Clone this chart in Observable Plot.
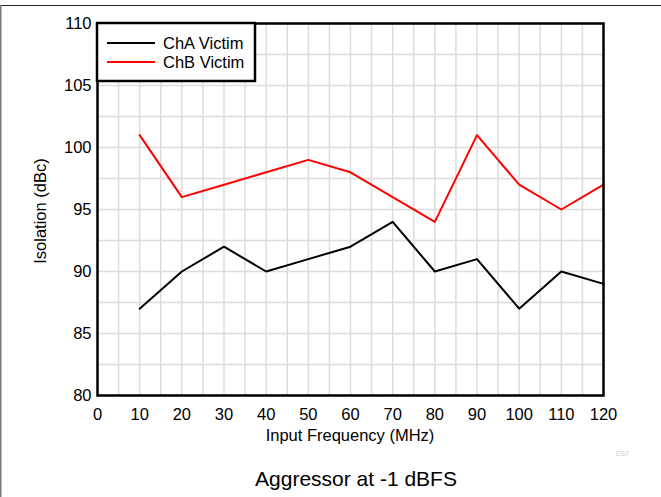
<!DOCTYPE html>
<html>
<head>
<meta charset="utf-8">
<script src="https://cdn.jsdelivr.net/npm/d3@7"></script>
<script src="https://cdn.jsdelivr.net/npm/@observablehq/plot@0.6"></script>
<style>
  html, body { margin: 0; padding: 0; background: #fff; }
  #chart { width: 661px; height: 497px; overflow: hidden; }
</style>
</head>
<body>
<div id="chart"></div>
<script>
const frequency = [10, 20, 30, 40, 50, 60, 70, 80, 90, 100, 110, 120];
const chA = [87, 90, 92, 90, 91, 92, 94, 90, 91, 87, 90, 89];
const chB = [101, 96, 97, 98, 99, 98, 96, 94, 101, 97, 95, 97];
const seriesNames = ["ChA Victim", "ChB Victim"];
const seriesColors = ["#000000", "#ff0000"];
const xTickLabels = [0, 10, 20, 30, 40, 50, 60, 70, 80, 90, 100, 110, 120];
const yTickLabels = [80, 85, 90, 95, 100, 105, 110];
const xGrid = d3.range(0, 121, 5);
const yGrid = d3.range(80, 110.01, 2.5);
const xTitle = "Input Frequency (MHz)";
const yTitle = "Isolation (dBc)";
const caption = "Aggressor at -1 dBFS";
const figId = "D37";

const rowsA = frequency.map((f, i) => ({f, v: chA[i]}));
const rowsB = frequency.map((f, i) => ({f, v: chB[i]}));

const W = 661, H = 497;
const mL = 97, mR = 58, mT = 23, mB = 102;
const font = "'Liberation Sans', Arial, Helvetica, sans-serif";

const plot = Plot.plot({
  width: W, height: H,
  marginLeft: mL, marginRight: mR, marginTop: mT, marginBottom: mB,
  style: {fontFamily: font, fontSize: "16.5px", color: "#000", background: "#fff", overflow: "visible"},
  x: {domain: [0, 120], label: null},
  y: {domain: [80, 110], label: null},
  marks: [
    Plot.gridX(xGrid, {stroke: "#dcdcdc", strokeOpacity: 1, strokeWidth: 1.5}),
    Plot.gridY(yGrid, {stroke: "#dcdcdc", strokeOpacity: 1, strokeWidth: 1.5}),
    Plot.axisX(xTickLabels, {tickSize: 0, tickPadding: 13, fontSize: 16.5, label: null}),
    Plot.axisY(yTickLabels, {tickSize: 0, tickPadding: 6, fontSize: 16.5, label: null}),
    Plot.line(rowsA, {x: "f", y: "v", stroke: seriesColors[0], strokeWidth: 2}),
    Plot.line(rowsB, {x: "f", y: "v", stroke: seriesColors[1], strokeWidth: 2}),
    Plot.frame({stroke: "#000", strokeWidth: 2.5})
  ]
});
document.getElementById("chart").appendChild(plot);

const svg = d3.select(plot);
const cx = mL + (W - mL - mR) / 2;
const cy = mT + (H - mT - mB) / 2;

// legend
const lg = svg.append("g");
lg.append("rect").attr("x", mL).attr("y", mT).attr("width", 158).attr("height", 58)
  .attr("fill", "#fff").attr("stroke", "#000").attr("stroke-width", 2.5);
seriesNames.forEach((name, i) => {
  const y = mT + 20 + i * 19;
  lg.append("line").attr("x1", mL + 10).attr("x2", mL + 58).attr("y1", y).attr("y2", y)
    .attr("stroke", seriesColors[i]).attr("stroke-width", 2);
  lg.append("text").attr("x", mL + 66).attr("y", y + 6).attr("text-anchor", "start").text(name)
    .attr("font-family", font).attr("font-size", 16.5).attr("fill", "#000");
});

// axis titles
svg.append("text").attr("x", cx).attr("y", 441).attr("text-anchor", "middle")
  .attr("font-family", font).attr("font-size", 16.5).attr("fill", "#000").text(xTitle);
svg.append("text").attr("transform", `translate(46,${cy + 2}) rotate(-90)`).attr("text-anchor", "middle")
  .attr("font-family", font).attr("font-size", 16.5).attr("fill", "#000").text(yTitle);

// caption
svg.append("text").attr("x", 356).attr("y", 486).attr("text-anchor", "middle")
  .attr("font-family", font).attr("font-size", 21).attr("fill", "#000").text(caption);
svg.append("text").attr("x", 616).attr("y", 456).attr("text-anchor", "start")
  .attr("font-family", font).attr("font-size", 7).attr("fill", "#c8c8c8").text(figId);

// page border
svg.append("line").attr("x1", 0).attr("x2", W).attr("y1", 5.5).attr("y2", 5.5)
  .attr("stroke", "#222").attr("stroke-width", 1);
svg.append("line").attr("x1", 0.75).attr("x2", 0.75).attr("y1", 5).attr("y2", H)
  .attr("stroke", "#777").attr("stroke-width", 1.5);
</script>
</body>
</html>
